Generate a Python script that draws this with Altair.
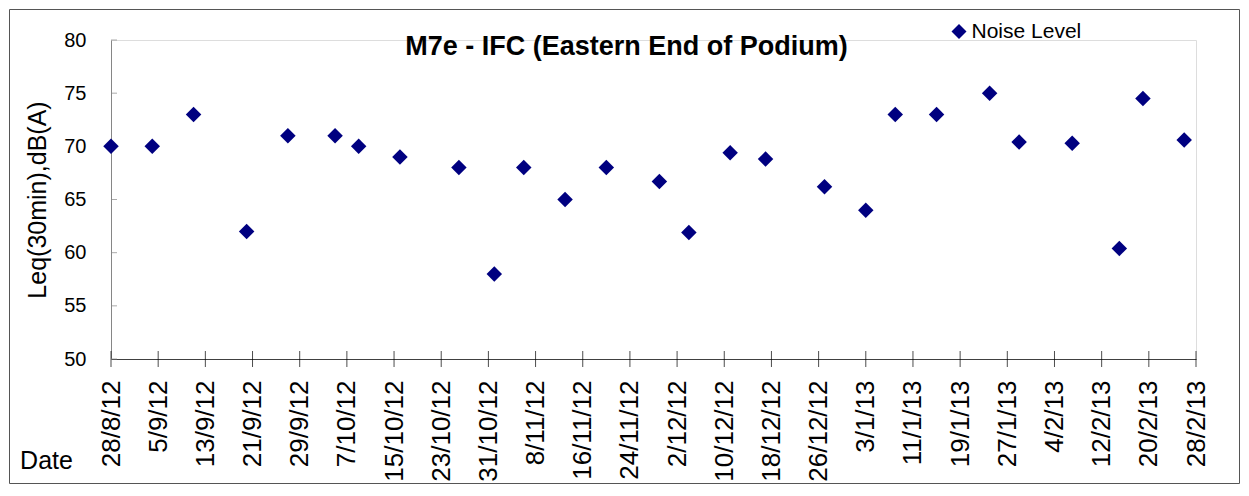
import altair as alt
import pandas as pd

# ---- data ----
point_dates = ["28/8/12", "4/9/12", "11/9/12", "20/9/12", "27/9/12", "5/10/12", "9/10/12",
               "16/10/12", "26/10/12", "1/11/12", "6/11/12", "13/11/12", "20/11/12", "29/11/12",
               "4/12/12", "11/12/12", "17/12/12", "27/12/12", "3/1/13", "8/1/13", "15/1/13",
               "24/1/13", "29/1/13", "7/2/13", "15/2/13", "19/2/13", "26/2/13"]
noise_levels = [70, 70, 73, 62, 71, 71, 70,
                69, 68, 58, 68, 65, 68, 66.7,
                61.9, 69.4, 68.8, 66.2, 64, 73, 73,
                75, 70.4, 70.3, 60.4, 74.5, 70.6]
tick_labels = ["28/8/12", "5/9/12", "13/9/12", "21/9/12", "29/9/12", "7/10/12", "15/10/12",
               "23/10/12", "31/10/12", "8/11/12", "16/11/12", "24/11/12", "2/12/12", "10/12/12",
               "18/12/12", "26/12/12", "3/1/13", "11/1/13", "19/1/13", "27/1/13", "4/2/13",
               "12/2/13", "20/2/13", "28/2/13"]
y_ticks = [50, 55, 60, 65, 70, 75, 80]
series_name = "Noise Level"
chart_title = "M7e - IFC (Eastern End of Podium)"
y_title = "Leq(30min),dB(A)"
x_title = "Date"

FONT = "Liberation Sans"


def to_iso(s):
    d, m, y = s.split("/")
    return f"20{y}-{int(m):02d}-{int(d):02d}"


def to_ms(s):
    return int(pd.Timestamp(to_iso(s)).value // 10**6)


points = pd.DataFrame({
    "date": [to_iso(s) for s in point_dates],
    "value": noise_levels,
    "series": [series_name] * len(noise_levels),
})
xticks = pd.DataFrame({"date": [to_iso(s) for s in tick_labels]})
yticks = pd.DataFrame({"value": y_ticks})
single = pd.DataFrame({"a": [0]})

W, H = 1085, 319
PL, PT, PR, PB = 103, 32, 45, 126

x_enc = alt.X(
    "date:T",
    scale=alt.Scale(type="utc", domain=[to_ms(tick_labels[0]), to_ms(tick_labels[-1])], nice=False),
    axis=alt.Axis(
        values=[to_ms(s) for s in tick_labels],
        format="%-d/%-m/%y",
        labelAngle=270,
        labelAlign="right",
        labelBaseline="middle",
        labelFont=FONT,
        labelFontSize=26,
        labelColor="#000000",
        labelPadding=21,
        labelOverlap=False,
        labelFlush=False,
        ticks=False,
        grid=False,
        domainColor="#404040",
        domainWidth=1,
        title=x_title,
        titleFont=FONT,
        titleFontSize=25,
        titleFontWeight="normal",
        titleColor="#000000",
        titleX=-65,
        titleY=109,
        titleAlign="center",
        titleBaseline="alphabetic",
        titleAngle=0,
    ),
)

y_enc = alt.Y(
    "value:Q",
    scale=alt.Scale(domain=[y_ticks[0], y_ticks[-1]], nice=False, zero=False),
    axis=alt.Axis(
        values=y_ticks,
        ticks=False,
        grid=False,
        domainColor="#868686",
        domainWidth=1,
        labelFont=FONT,
        labelFontSize=20,
        labelColor="#000000",
        labelPadding=25,
        title=y_title,
        titleFont=FONT,
        titleFontSize=25,
        titleFontWeight="normal",
        titleColor="#000000",
        titleX=-74,
        titleY=H / 2,
        titleAlign="center",
        titleBaseline="middle",
        titleAngle=270,
    ),
)

frame_layer = alt.Chart(single).mark_rect(filled=False, stroke="#555555", strokeWidth=1).encode(
    x=alt.value(-PL + 1.5), x2=alt.value(W + PR - 1.5),
    y=alt.value(-PT + 1.5), y2=alt.value(H + PB - 1.5),
)

title_layer = alt.Chart(single).mark_text(
    font=FONT, fontSize=27, fontWeight="bold", color="#000000",
    align="center", baseline="alphabetic",
).encode(
    x=alt.value(W / 2 - 27), y=alt.value(15), text=alt.value(chart_title)
)

xtick_layer = alt.Chart(xticks).mark_tick(orient="vertical", size=16, thickness=1, color="#000000").encode(
    x=x_enc, y=alt.datum(y_ticks[0])
)

ytick_layer = alt.Chart(yticks).mark_tick(orient="horizontal", size=6, thickness=1, color="#868686").encode(
    y=y_enc, x=alt.value(3)
)

point_layer = alt.Chart(points).mark_point(shape="diamond", filled=True, size=240, opacity=1).encode(
    x=x_enc,
    y=y_enc,
    color=alt.Color(
        "series:N",
        scale=alt.Scale(domain=[series_name], range=["#000080"]),
        legend=alt.Legend(
            title=None,
            orient="none",
            legendX=837.5,
            legendY=-19,
            symbolType="diamond",
            symbolSize=225,
            symbolStrokeWidth=0,
            labelFont=FONT,
            labelFontSize=21,
            labelColor="#000000",
            labelOffset=2,
            padding=0,
        ),
    ),
)

chart = alt.layer(frame_layer, title_layer, xtick_layer, ytick_layer, point_layer).properties(
    width=W,
    height=H,
    autosize=alt.AutoSizeParams(type="none"),
    padding={"left": PL, "top": PT, "right": PR, "bottom": PB},
).configure_view(stroke=None).configure(background="#ffffff")

chart.save("out.html", embed_options={"renderer": "svg", "actions": False})
